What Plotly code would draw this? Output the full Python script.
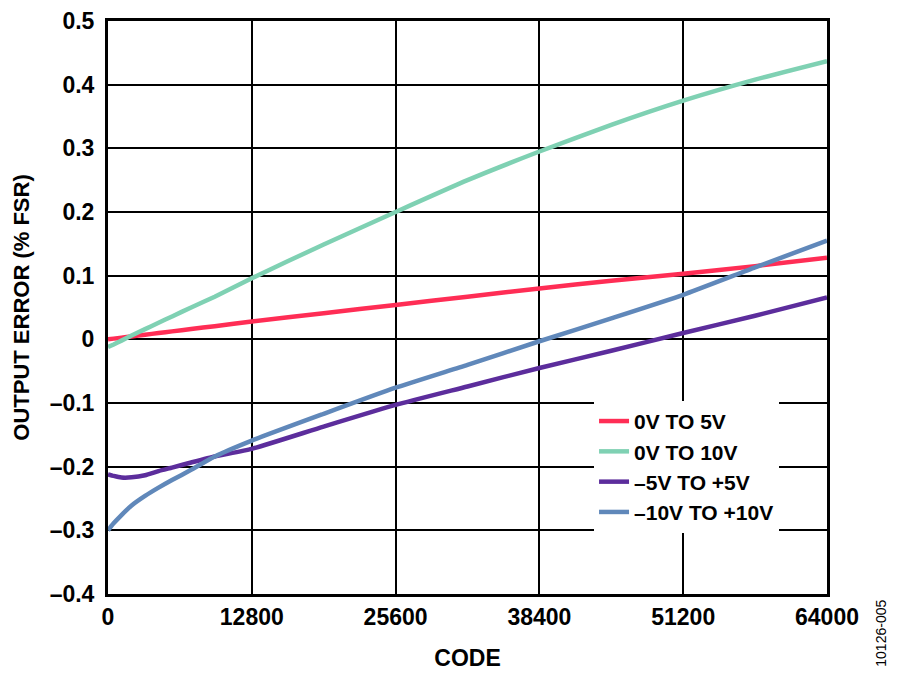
import plotly.graph_objects as go

code = [0, 500, 1200, 2100, 3300, 4500, 5700, 7400, 9500, 12800, 19200, 25600,
        32000, 38400, 44800, 51200, 57600, 64000]

err_0_5 = [0.0, 0.0011, 0.0026, 0.0046, 0.0073, 0.0099, 0.0125, 0.0162, 0.0207, 0.028,
           0.041, 0.054, 0.067, 0.080, 0.092, 0.103, 0.115, 0.128]
err_0_10 = [-0.012, -0.008, -0.002, 0.006, 0.016, 0.026, 0.036, 0.050, 0.067, 0.096,
            0.149, 0.200, 0.250, 0.295, 0.337, 0.375, 0.408, 0.437]
err_pm5 = [-0.212, -0.2145, -0.217, -0.2168, -0.2135, -0.207, -0.2015, -0.1935, -0.184, -0.172,
           -0.137, -0.103, -0.074, -0.045, -0.018, 0.010, 0.037, 0.066]
err_pm10 = [-0.300, -0.289, -0.276, -0.261, -0.246, -0.233, -0.221, -0.205, -0.184, -0.159,
            -0.117, -0.076, -0.040, -0.003, 0.033, 0.070, 0.113, 0.155]

names = ["0V TO 5V", "0V TO 10V", "\u20135V TO +5V", "\u201310V TO +10V"]
colors = ["#FF2D55", "#7FD1B3", "#5C2D9C", "#6088BA"]

xticks = [0, 12800, 25600, 38400, 51200, 64000]
yticks = [-0.4, -0.3, -0.2, -0.1, 0, 0.1, 0.2, 0.3, 0.4, 0.5]
ylabels = ["\u20130.4", "\u20130.3", "\u20130.2", "\u20130.1", "0", "0.1", "0.2", "0.3", "0.4", "0.5"]

font = "Arial, Liberation Sans, sans-serif"

fig = go.Figure()
for name, ys, c in zip(names, [err_0_5, err_0_10, err_pm5, err_pm10], colors):
    fig.add_trace(go.Scatter(x=code, y=ys, mode='lines', name='<b>%s</b>' % name,
                             line=dict(color=c, width=4.5, shape='spline', smoothing=0.5)))

# page body adds an 8px offset, margins are set against that
fig.update_layout(
    width=900, height=676,
    margin=dict(l=100, r=81, t=13, b=90),
    plot_bgcolor='white', paper_bgcolor='white',
    font=dict(family=font, size=23, color='black'),
    legend=dict(x=0.676, y=0.337, xanchor='left', yanchor='top',
                bgcolor='white', font=dict(size=21, family=font),
                itemwidth=30, tracegroupgap=0),
    xaxis=dict(range=[0, 64000], tickvals=xticks, ticktext=['<b>%s</b>' % t for t in xticks],
               showgrid=True, gridcolor='black', gridwidth=1.5,
               showline=True, linecolor='black', linewidth=3, mirror=True,
               ticks='', zeroline=False, automargin=False, ticklabeloverflow='allow',
               tickfont=dict(size=23, family=font),
               title=dict(text='<b>CODE</b>', font=dict(size=23, family=font), standoff=22)),
    yaxis=dict(range=[-0.4, 0.5], tickvals=yticks, ticktext=['<b>%s</b>' % t for t in ylabels],
               showgrid=True, gridcolor='black', gridwidth=1.5,
               showline=True, linecolor='black', linewidth=3, mirror=True,
               ticks='', zeroline=False, automargin=False, ticklabelstandoff=6,
               ticklabeloverflow='allow',
               tickfont=dict(size=23, family=font),
               title=dict(text='<b>OUTPUT ERROR (% FSR)</b>', font=dict(size=22, family=font), standoff=14)),
)

fig.add_annotation(text='10126-005', x=1.074, y=-0.007, xref='paper', yref='paper',
                   textangle=-90, showarrow=False, xanchor='center', yanchor='top',
                   font=dict(size=14, family=font, color='black'))

fig.write_html("out.html")
